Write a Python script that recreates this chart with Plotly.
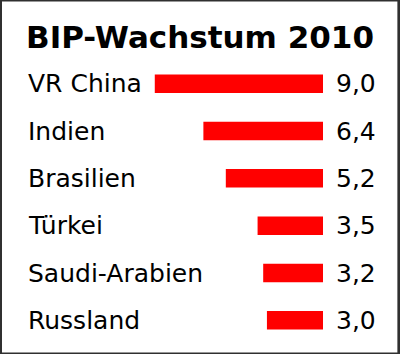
import plotly.graph_objects as go

countries = ["VR China", "Indien", "Brasilien", "Türkei", "Saudi-Arabien", "Russland"]
growth = [9.0, 6.4, 5.2, 3.5, 3.2, 3.0]
value_labels = ["9,0", "6,4", "5,2", "3,5", "3,2", "3,0"]
title_text = "BIP-Wachstum 2010"

W, H = 400, 354
L, R, T, B = 0, 76.5, 60.4, 10.4
pw, ph = W - L - R, H - T - B
px_per_unit = 18.72
FONT = "DejaVu Sans"

fig = go.Figure(go.Bar(
    x=growth, y=countries, orientation="h",
    marker=dict(color="#FF0000", line=dict(width=0)),
    width=0.39, hoverinfo="skip",
))

ann = []
for c, v in zip(countries, value_labels):
    ann.append(dict(x=26 / pw, xref="paper", y=c, yref="y", text=c, showarrow=False,
                    xanchor="left", yanchor="middle",
                    font=dict(family=FONT, size=25, color="black")))
    ann.append(dict(x=379 / pw, xref="paper", y=c, yref="y", text=v, showarrow=False,
                    xanchor="right", yanchor="middle",
                    font=dict(family=FONT, size=25, color="black")))

fig.update_layout(
    width=W, height=H,
    margin=dict(l=L, r=R, t=T, b=B, autoexpand=False),
    paper_bgcolor="white", plot_bgcolor="white",
    showlegend=False,
    title=dict(text="<b>%s</b>" % title_text, xref="container", yref="container",
               x=26 / W, xanchor="left", y=1 - 37 / H, yanchor="middle",
               font=dict(family=FONT, size=31, color="black")),
    xaxis=dict(range=[pw / px_per_unit, 0], visible=False, fixedrange=True),
    yaxis=dict(type="category", categoryorder="array", categoryarray=countries,
               autorange="reversed", visible=False, fixedrange=True),
    annotations=ann,
    shapes=[dict(type="rect", xref="paper", yref="paper",
                 x0=-L / pw, x1=(W - L) / pw, y0=-B / ph, y1=(H - B) / ph,
                 line=dict(color="#303030", width=4), fillcolor="rgba(0,0,0,0)")],
)

fig.write_html("out.html")
